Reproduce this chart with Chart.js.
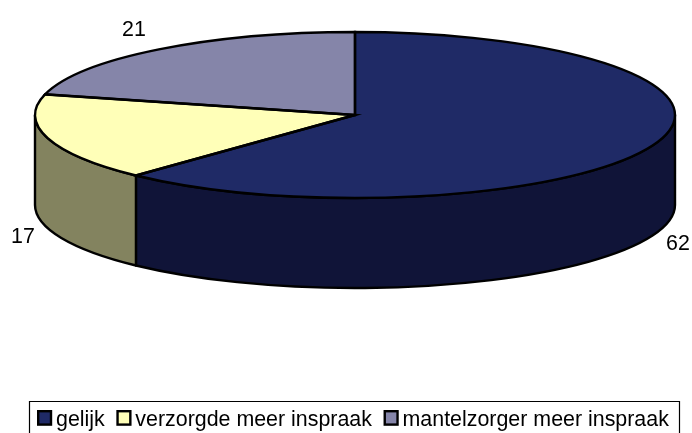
<!DOCTYPE html>
<html>
<head>
<meta charset="utf-8">
<style>
html,body{margin:0;padding:0;background:#fff;overflow:hidden}
#wrap{position:relative;width:692px;height:433px}
</style>
<script src="https://cdn.jsdelivr.net/npm/chart.js@4"></script>
</head>
<body>
<div id="wrap"><canvas id="c" width="692" height="433"></canvas></div>
<script>
const categories = ['gelijk', 'verzorgde meer inspraak', 'mantelzorger meer inspraak'];
const values = [62, 17, 21];
const topColors = ['#1F2A66', '#FFFFB8', '#8585A9'];
const sideColors = ['#101438', '#83835F', '#44445A'];
const valueLabelAnchors = [[666, 250], [11, 243], [122, 36]];

const SQUASH = 83 / 320;
const DEPTH = 90;
const FONT = '21.4px "Liberation Sans", Arial, sans-serif';
const LINE = 2.4;

function visibleSpans(a0, a1) {
  const spans = [];
  for (const k of [-1, 0, 1]) {
    const lo = Math.max(a0, k * 2 * Math.PI);
    const hi = Math.min(a1, k * 2 * Math.PI + Math.PI);
    if (hi > lo) spans.push([lo, hi]);
  }
  return spans;
}

const pie3d = {
  id: 'pie3d',
  beforeDatasetsDraw(chart) {
    const ctx = chart.ctx;
    chart.getDatasetMeta(0).data.forEach((arc, i) => {
      const rx = arc.outerRadius, ry = rx * SQUASH;
      visibleSpans(arc.startAngle, arc.endAngle).forEach(([lo, hi]) => {
        ctx.beginPath();
        ctx.ellipse(arc.x, arc.y, rx, ry, 0, lo, hi);
        ctx.ellipse(arc.x, arc.y + DEPTH, rx, ry, 0, hi, lo, true);
        ctx.closePath();
        ctx.fillStyle = sideColors[i];
        ctx.fill();
        ctx.lineWidth = LINE;
        ctx.lineJoin = 'round';
        ctx.strokeStyle = '#000';
        ctx.stroke();
      });
    });
  },
  beforeDatasetDraw(chart) {
    const ctx = chart.ctx;
    const first = chart.getDatasetMeta(0).data[0];
    ctx.save();
    ctx.translate(first.x, first.y);
    ctx.scale(1, SQUASH);
    ctx.translate(-first.x, -first.y);
  },
  afterDatasetDraw(chart) {
    const ctx = chart.ctx;
    ctx.restore();
    chart.getDatasetMeta(0).data.forEach(arc => {
      const rx = arc.outerRadius, ry = rx * SQUASH;
      ctx.beginPath();
      ctx.moveTo(arc.x, arc.y);
      ctx.ellipse(arc.x, arc.y, rx, ry, 0, arc.startAngle, arc.endAngle);
      ctx.closePath();
      ctx.lineWidth = LINE;
      ctx.lineJoin = 'miter';
      ctx.strokeStyle = '#000';
      ctx.stroke();
    });
  },
  afterDraw(chart) {
    const ctx = chart.ctx;
    ctx.save();
    ctx.font = FONT;
    ctx.fillStyle = '#000';
    ctx.textBaseline = 'alphabetic';
    ctx.textAlign = 'left';
    values.forEach((v, i) => {
      ctx.fillText(String(v), valueLabelAnchors[i][0], valueLabelAnchors[i][1]);
    });
    // legend frame (open at the bottom, cut by the page edge)
    ctx.strokeStyle = '#000';
    ctx.lineWidth = 1.2;
    ctx.beginPath();
    ctx.moveTo(29.5, 434);
    ctx.lineTo(29.5, 401.5);
    ctx.lineTo(679.5, 401.5);
    ctx.lineTo(679.5, 434);
    ctx.stroke();
    let x = 37;
    categories.forEach((name, i) => {
      ctx.fillStyle = topColors[i];
      ctx.fillRect(x + 1.2, 411.2, 12.8, 13.4);
      ctx.lineWidth = 2.4;
      ctx.strokeRect(x + 1.2, 411.2, 12.8, 13.4);
      ctx.fillStyle = '#000';
      ctx.fillText(name, x + 19, 426);
      x += 19 + ctx.measureText(name).width + 11.6;
    });
    ctx.restore();
  }
};

new Chart(document.getElementById('c'), {
  type: 'pie',
  data: {
    labels: categories,
    datasets: [{
      data: values,
      backgroundColor: topColors,
      borderWidth: 0,
      clip: false
    }]
  },
  options: {
    responsive: false,
    animation: false,
    radius: 320,
    rotation: 0,
    layout: { padding: { left: 18, right: 0, top: 0, bottom: 203 } },
    plugins: { legend: { display: false }, tooltip: { enabled: false } }
  },
  plugins: [pie3d]
});
</script>
</body>
</html>
